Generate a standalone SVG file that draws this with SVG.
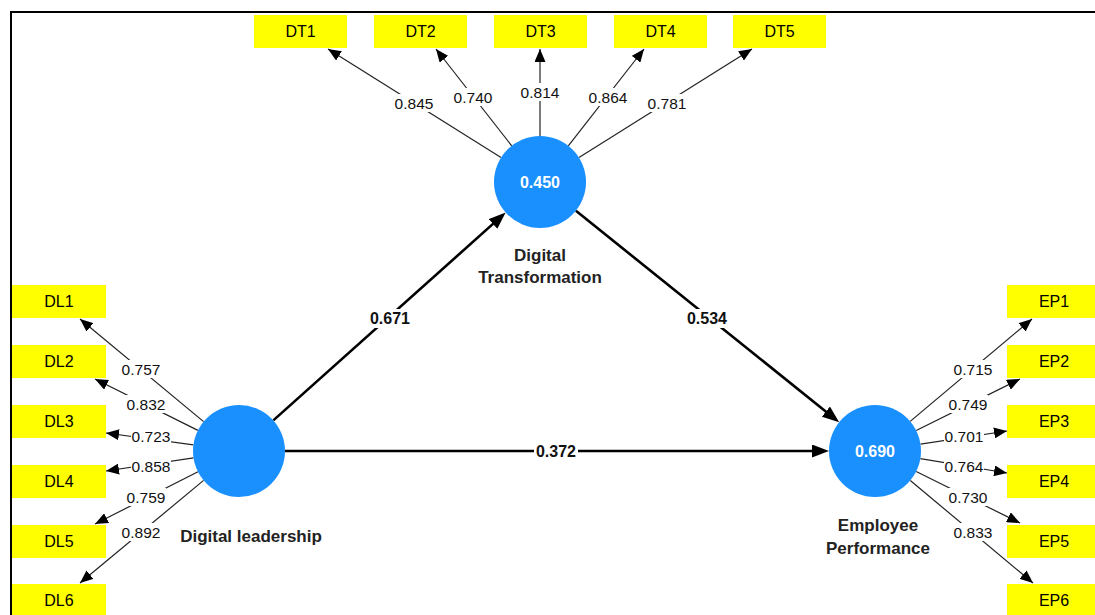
<svg xmlns="http://www.w3.org/2000/svg" width="1095" height="615" viewBox="0 0 1095 615">
<style>
.box{fill:#ffff00}
.bt{font-family:"Liberation Sans",Arial,sans-serif;font-size:16px;fill:#000;text-anchor:middle}
.cv{font-family:"Liberation Sans",Arial,sans-serif;font-size:16px;font-weight:bold;fill:#fff;text-anchor:middle}
.cn{font-family:"Liberation Sans",Arial,sans-serif;font-size:17px;font-weight:bold;fill:#222;text-anchor:middle}
.lv{font-family:"Liberation Sans",Arial,sans-serif;font-size:15.5px;fill:#111;text-anchor:middle}
.pv{font-family:"Liberation Sans",Arial,sans-serif;font-size:16px;font-weight:bold;fill:#111;text-anchor:middle}
.lc{fill:#1a90ff}
.ld{stroke:#222;stroke-width:1.2;fill:none;marker-end:url(#ah)}
.st{stroke:#000;stroke-width:2.6;fill:none;marker-end:url(#ahb)}
.bg{fill:#fff}
</style>
<defs>
<marker id="ah" markerUnits="userSpaceOnUse" viewBox="0 0 13 11" refX="13" refY="5.5" markerWidth="13" markerHeight="11" orient="auto">
<path d="M0,0 L13,5.5 L0,11 z" fill="#000"/>
</marker>
<marker id="ahb" markerUnits="userSpaceOnUse" viewBox="0 0 17 13" refX="9" refY="6.5" markerWidth="17" markerHeight="13" orient="auto">
<path d="M0,0 L17,6.5 L0,13 z" fill="#000"/>
</marker>
</defs>
<rect x="0" y="0" width="1095" height="615" fill="#fff"/>
<g id="frame">
<line x1="10" y1="12" x2="1095" y2="12" stroke="#000" stroke-width="2"/>
<line x1="11" y1="11" x2="11" y2="615" stroke="#000" stroke-width="2"/>
</g>
<g id="connectors">
<line class="st" x1="273.3" y1="420.4" x2="499.7" y2="217.9"/>
<line class="st" x1="575.9" y1="210.8" x2="832.9" y2="417.2"/>
<line class="st" x1="285" y1="451" x2="821" y2="451"/>
<line class="ld" x1="501.0" y1="157.6" x2="328" y2="49"/>
<line class="ld" x1="511.7" y1="145.8" x2="436" y2="49"/>
<line class="ld" x1="540" y1="136" x2="540" y2="49"/>
<line class="ld" x1="568.3" y1="145.8" x2="644" y2="49"/>
<line class="ld" x1="579.0" y1="157.6" x2="752" y2="49"/>
<line class="ld" x1="203.6" y1="421.6" x2="80" y2="319"/>
<line class="ld" x1="197.9" y1="430.4" x2="95" y2="379"/>
<line class="ld" x1="193.4" y1="444.8" x2="106" y2="433"/>
<line class="ld" x1="193.5" y1="457.8" x2="106" y2="471"/>
<line class="ld" x1="198.0" y1="471.8" x2="95" y2="524"/>
<line class="ld" x1="203.6" y1="480.4" x2="80" y2="583"/>
<line class="ld" x1="910.2" y1="421.4" x2="1032" y2="319"/>
<line class="ld" x1="916.2" y1="430.5" x2="1020" y2="379"/>
<line class="ld" x1="920.5" y1="444.1" x2="1007" y2="431"/>
<line class="ld" x1="920.4" y1="458.6" x2="1007" y2="473"/>
<line class="ld" x1="916.2" y1="471.5" x2="1020" y2="523"/>
<line class="ld" x1="910.3" y1="480.5" x2="1033" y2="583"/>
<g id="connector-labels">
<rect class="bg" x="368" y="309" width="44" height="19"/><text class="pv" x="390" y="324">0.671</text>
<rect class="bg" x="685" y="309" width="44" height="19"/><text class="pv" x="707" y="324">0.534</text>
<rect class="bg" x="534" y="442" width="44" height="19"/><text class="pv" x="556" y="457">0.372</text>
<rect class="bg" x="394" y="94" width="40" height="18"/><text class="lv" x="414" y="109">0.845</text>
<rect class="bg" x="453" y="88" width="40" height="18"/><text class="lv" x="473" y="103">0.740</text>
<rect class="bg" x="520" y="83" width="40" height="18"/><text class="lv" x="540" y="98">0.814</text>
<rect class="bg" x="588" y="88" width="40" height="18"/><text class="lv" x="608" y="103">0.864</text>
<rect class="bg" x="647" y="94" width="40" height="18"/><text class="lv" x="667" y="109">0.781</text>
<rect class="bg" x="121" y="360" width="40" height="18"/><text class="lv" x="141" y="375">0.757</text>
<rect class="bg" x="126" y="395" width="40" height="18"/><text class="lv" x="146" y="410">0.832</text>
<rect class="bg" x="131" y="427" width="40" height="18"/><text class="lv" x="151" y="442">0.723</text>
<rect class="bg" x="131" y="457" width="40" height="18"/><text class="lv" x="151" y="472">0.858</text>
<rect class="bg" x="126" y="488" width="40" height="18"/><text class="lv" x="146" y="503">0.759</text>
<rect class="bg" x="121" y="523" width="40" height="18"/><text class="lv" x="141" y="538">0.892</text>
<rect class="bg" x="953" y="360" width="40" height="18"/><text class="lv" x="973" y="375">0.715</text>
<rect class="bg" x="948" y="395" width="40" height="18"/><text class="lv" x="968" y="410">0.749</text>
<rect class="bg" x="944" y="427" width="40" height="18"/><text class="lv" x="964" y="442">0.701</text>
<rect class="bg" x="944" y="457" width="40" height="18"/><text class="lv" x="964" y="472">0.764</text>
<rect class="bg" x="948" y="488" width="40" height="18"/><text class="lv" x="968" y="503">0.730</text>
<rect class="bg" x="953" y="523" width="40" height="18"/><text class="lv" x="973" y="538">0.833</text>
</g>
</g>
<g id="DT">
<circle class="lc" cx="540" cy="182" r="46"/>
<text class="cv" x="540" y="188">0.450</text>
<text class="cn" x="540" y="261">Digital</text>
<text class="cn" x="540" y="283">Transformation</text>
</g>
<g id="DL">
<circle class="lc" cx="239" cy="451" r="46"/>
<text class="cn" x="251" y="542">Digital leadership</text>
</g>
<g id="EP">
<circle class="lc" cx="875" cy="451" r="46"/>
<text class="cv" x="875" y="457">0.690</text>
<text class="cn" x="878" y="531">Employee</text>
<text class="cn" x="878" y="554">Performance</text>
</g>
<g id="DT1"><rect class="box" x="254" y="15" width="93" height="33"/><text class="bt" x="300.5" y="37">DT1</text></g>
<g id="DT2"><rect class="box" x="374" y="15" width="93" height="33"/><text class="bt" x="420.5" y="37">DT2</text></g>
<g id="DT3"><rect class="box" x="494" y="15" width="93" height="33"/><text class="bt" x="540.5" y="37">DT3</text></g>
<g id="DT4"><rect class="box" x="614" y="15" width="93" height="33"/><text class="bt" x="660.5" y="37">DT4</text></g>
<g id="DT5"><rect class="box" x="733" y="15" width="93" height="33"/><text class="bt" x="779.5" y="37">DT5</text></g>
<g id="DL1"><rect class="box" x="12" y="285" width="94" height="33"/><text class="bt" x="59" y="307">DL1</text></g>
<g id="DL2"><rect class="box" x="12" y="345" width="94" height="33"/><text class="bt" x="59" y="367">DL2</text></g>
<g id="DL3"><rect class="box" x="12" y="405" width="94" height="33"/><text class="bt" x="59" y="427">DL3</text></g>
<g id="DL4"><rect class="box" x="12" y="465" width="94" height="33"/><text class="bt" x="59" y="487">DL4</text></g>
<g id="DL5"><rect class="box" x="12" y="525" width="94" height="33"/><text class="bt" x="59" y="547">DL5</text></g>
<g id="DL6"><rect class="box" x="12" y="584" width="94" height="33"/><text class="bt" x="59" y="606">DL6</text></g>
<g id="EP1"><rect class="box" x="1007" y="285" width="94" height="33"/><text class="bt" x="1054" y="307">EP1</text></g>
<g id="EP2"><rect class="box" x="1007" y="345" width="94" height="33"/><text class="bt" x="1054" y="367">EP2</text></g>
<g id="EP3"><rect class="box" x="1007" y="405" width="94" height="33"/><text class="bt" x="1054" y="427">EP3</text></g>
<g id="EP4"><rect class="box" x="1007" y="465" width="94" height="33"/><text class="bt" x="1054" y="487">EP4</text></g>
<g id="EP5"><rect class="box" x="1007" y="525" width="94" height="33"/><text class="bt" x="1054" y="547">EP5</text></g>
<g id="EP6"><rect class="box" x="1007" y="584" width="94" height="33"/><text class="bt" x="1054" y="606">EP6</text></g>
</svg>
